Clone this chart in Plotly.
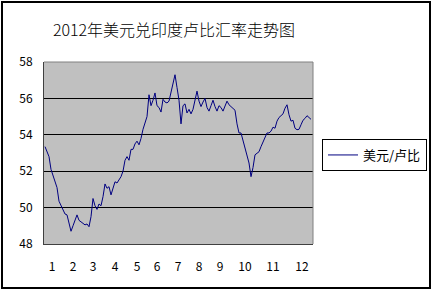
import plotly.graph_objects as go

# USD/INR exchange rate, 2012 (evenly spaced trading-day samples)
rate = [
    53.35, 53.1, 52.8, 52.1, 51.8, 51.45, 51.1, 50.35, 50.1, 49.95,
    49.65, 49.6, 49.2, 48.7, 49.0, 49.25, 49.6, 49.3, 49.2, 49.15,
    49.05, 49.1, 48.95, 49.5, 50.5, 50.1, 49.9, 50.2, 50.1, 50.6,
    51.3, 51.06, 51.15, 50.7, 51.0, 51.42, 51.35, 51.55, 51.7, 52.0,
    52.6, 52.8, 52.6, 53.2, 53.2, 53.5, 53.65, 53.45, 53.8, 54.3,
    54.7, 55.0, 56.2, 55.6, 55.9, 56.3, 55.6, 55.5, 55.25, 55.95,
    55.8, 55.75, 55.85, 56.4, 56.95, 57.3, 56.6, 55.9, 54.6, 55.6,
    55.7, 55.2, 55.4, 55.15, 55.4, 55.9, 56.4, 55.85, 55.55, 55.8,
    56.0, 55.5, 55.3, 55.6, 55.9, 55.55, 55.3, 55.6, 55.5, 55.3,
    55.64, 55.85, 55.65, 55.55, 55.45, 55.35, 54.6, 54.1, 54.1, 53.65,
    53.35, 52.75, 52.45, 51.7, 52.2, 52.9, 53.0, 53.07, 53.35, 53.6,
    53.8, 54.1, 54.1, 54.2, 54.42, 54.36, 54.75, 54.95, 55.05, 55.15,
    55.46, 55.65, 55.1, 54.75, 54.8, 54.36, 54.28, 54.3, 54.55, 54.8,
    54.9, 55.05, 54.95, 54.85,
]
day_index = list(range(len(rate)))

# month label positions (in sample index) and labels
month_pos = [3.5, 14, 24, 35, 46, 56, 66.5, 77, 87.5, 100, 114, 128.5]
month_labels = ["1", "2", "3", "4", "5", "6", "7", "8", "9", "10", "11", "12"]
y_ticks = [48, 50, 52, 54, 56, 58]

title_text = "2012年美元兑印度卢比汇率走势图"
series_name = "美元/卢比"

W, H = 432, 290
L, R, T, B = 44, 313, 62, 244  # plot area in pixels

def px(x):
    return (x - L) / (R - L)

def py(y):
    return (B - y) / (B - T)

FONT = "Noto Sans CJK SC"

fig = go.Figure()
fig.add_trace(go.Scatter(
    x=day_index, y=rate, mode="lines", name=series_name,
    line=dict(color="#000080", width=1),
))

fig.update_layout(
    width=W, height=H,
    margin=dict(l=L, r=W - R, t=T, b=H - B, pad=0, autoexpand=False),
    paper_bgcolor="white",
    plot_bgcolor="#C0C0C0",
    font=dict(family=FONT, size=12, color="black"),
    title=dict(text=title_text, font=dict(family=FONT, size=16, color="black", weight=300),
               xref="container", yref="container", x=174 / W, y=1 - 30 / H,
               xanchor="center", yanchor="middle"),
    showlegend=True,
    legend=dict(xref="container", yref="container",
                x=322 / W, y=1 - 139 / H, xanchor="left", yanchor="top",
                bgcolor="white", bordercolor="black", borderwidth=1,
                font=dict(family=FONT, size=13, color="black"),
                itemwidth=30),
    xaxis=dict(range=[-0.5, 134], tickmode="array", tickvals=month_pos,
               ticktext=month_labels, showgrid=False, zeroline=False,
               showline=True, linecolor="#404040", linewidth=1,
               ticks="", ticklabelstandoff=12,
               tickfont=dict(family=FONT, size=12)),
    yaxis=dict(range=[48, 58], tickmode="array", tickvals=y_ticks,
               showgrid=True, gridcolor="black", gridwidth=1, zeroline=False,
               showline=True, linecolor="#404040", linewidth=1,
               ticks="", ticklabelstandoff=8,
               tickfont=dict(family=FONT, size=12)),
    shapes=[
        # gray plot border top/right
        dict(type="line", xref="paper", yref="paper", x0=0, x1=1, y0=1, y1=1,
             line=dict(color="#808080", width=1), layer="above"),
        dict(type="line", xref="paper", yref="paper", x0=1, x1=1, y0=0, y1=1,
             line=dict(color="#808080", width=1), layer="above"),
        # outer chart frame
        dict(type="rect", xref="paper", yref="paper",
             x0=px(2), x1=px(430), y0=py(288), y1=py(2),
             line=dict(color="black", width=2), layer="above"),
    ],
)

fig.write_html("out.html")
